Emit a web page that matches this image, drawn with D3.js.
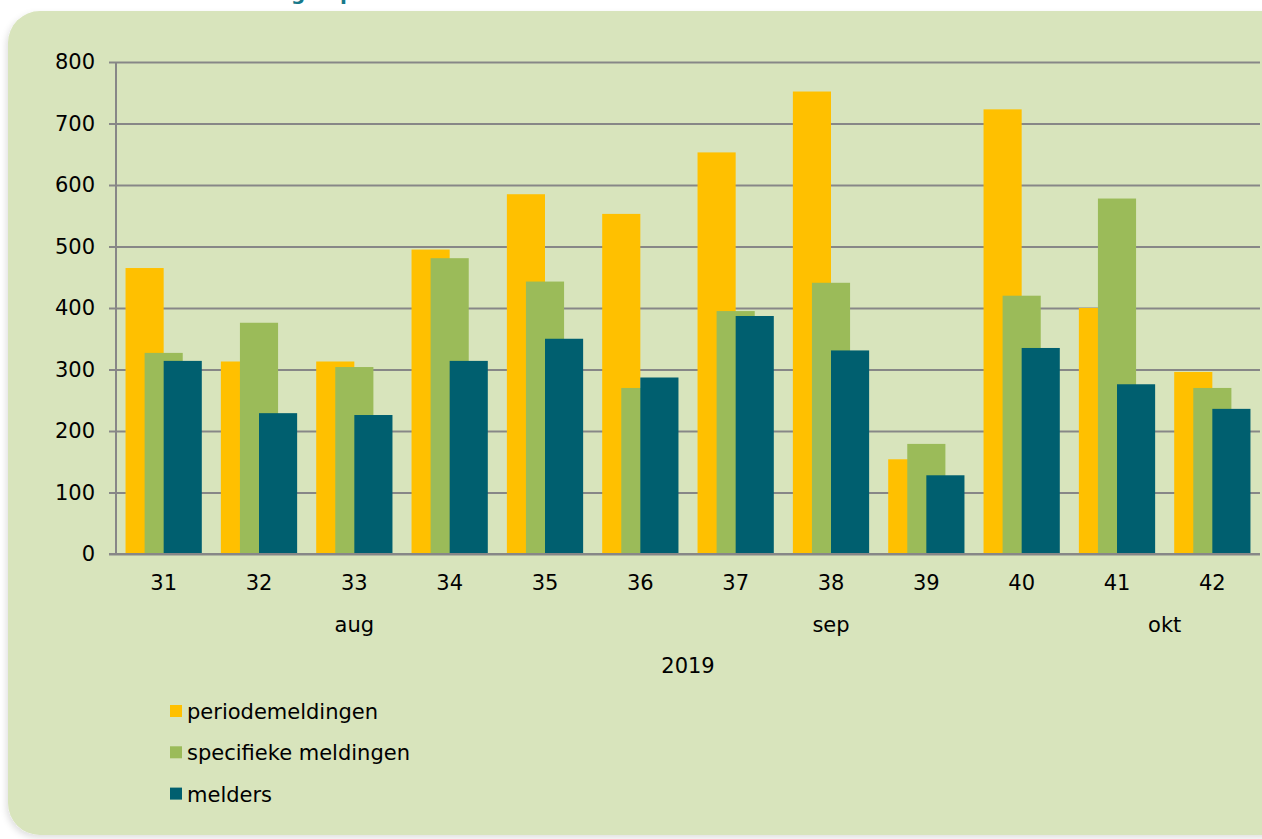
<!DOCTYPE html>
<html>
<head>
<meta charset="utf-8">
<script src="https://cdn.jsdelivr.net/npm/d3@7"></script>
<style>
  html, body { margin: 0; padding: 0; background: #fff; }
  svg { display: block; font-family: "DejaVu Sans", Verdana, sans-serif; }
</style>
</head>
<body>
<div id="chart"></div>
<script>
// week numbers and the three series
var weeks = ['31', '32', '33', '34', '35', '36', '37', '38', '39', '40', '41', '42'];
var periodemeldingen = [465, 313, 313, 495, 585, 553, 653, 752, 154, 723, 400, 296];
var specifiekeMeldingen = [327, 376, 304, 481, 443, 270, 395, 441, 179, 420, 578, 270];
var melders = [314, 229, 226, 314, 350, 287, 387, 331, 128, 335, 276, 236];
var seriesNames = ['periodemeldingen', 'specifieke meldingen', 'melders'];
var months = ['aug', 'sep', 'okt'];
var monthFirstWeek = ['31', '36', '41'];
var monthLastWeek = ['35', '40', '42'];
var yearLabel = '2019';
var yTicks = [0, 100, 200, 300, 400, 500, 600, 700, 800];

var colors = ['#ffc000', '#9bbb59', '#005f6f'];
var allSeries = [periodemeldingen, specifiekeMeldingen, melders];

var chart_width = 1262
var chart_height = 839
var font_size = 21

var svg = d3.select('#chart')
    .append('svg')
    .attr('width', chart_width)
    .attr('height', chart_height);

// soft shadow under the panel
var defs = svg.append('defs');
var f = defs.append('filter').attr('id', 'shadow')
    .attr('x', '-5%').attr('y', '-5%').attr('width', '110%').attr('height', '110%');
f.append('feDropShadow')
    .attr('dx', -2).attr('dy', 3).attr('stdDeviation', 3)
    .attr('flood-color', '#000').attr('flood-opacity', 0.12);

// title, mostly cut off at the top (as in the original page)
var title = svg.append('text')
    .attr('y', 0)
    .attr('font-weight', 'bold')
    .attr('font-size', 20)
    .attr('fill', '#17798a')
    .text('Aantal meldingen per week');
var gi = 'Aantal meldingen'.lastIndexOf('g');
var off = title.node().getSubStringLength(0, gi);
title.attr('x', 291 - off);

// panel
svg.append('rect')
    .attr('x', 8)
    .attr('y', 11)
    .attr('width', 1320)
    .attr('height', 824)
    .attr('rx', 32)
    .attr('fill', '#d8e4bc')
    .attr('filter', 'url(#shadow)');

var x = d3.scaleBand()
    .domain(weeks)
    .range([116, 1260])
    .padding(0);

var y = d3.scaleLinear()
    .domain([0, 800])
    .range([554, 62]);

// gridlines + y ticks
var yAxis = svg.append('g')
    .attr('transform', 'translate(116,0)')
    .call(d3.axisLeft(y)
        .tickValues(yTicks)
        .tickSize(-(1260 - 116))
        .tickSizeOuter(0)
        .tickPadding(21));
yAxis.select('.domain').remove();
yAxis.selectAll('.tick line')
    .attr('x1', -7)
    .attr('stroke', '#878787')
    .attr('stroke-width', 2);
yAxis.selectAll('.tick text')
    .attr('font-size', font_size)
    .attr('font-family', '"DejaVu Sans", Verdana, sans-serif')
    .attr('fill', '#000');

// vertical axis line
svg.append('line')
    .attr('x1', 116).attr('x2', 116)
    .attr('y1', y(800)).attr('y2', y(0))
    .attr('stroke', '#878787')
    .attr('stroke-width', 2);

// bars
var bw = x.bandwidth();
var offsets = [0.1, 0.3, 0.5];
allSeries.forEach(function(values, s) {
    svg.append('g')
        .selectAll('rect')
        .data(values)
        .enter()
        .append('rect')
        .attr('x', function(d, i) { return x(weeks[i]) + offsets[s] * bw; })
        .attr('y', function(d) { return y(d); })
        .attr('width', 0.4 * bw)
        .attr('height', function(d) { return y(0) - y(d); })
        .attr('fill', colors[s]);
});

// x axis line on top of bar bottoms
svg.append('line')
    .attr('x1', 109).attr('x2', 1260)
    .attr('y1', y(0)).attr('y2', y(0))
    .attr('stroke', '#878787')
    .attr('stroke-width', 2);

// week labels
svg.append('g')
    .selectAll('text')
    .data(weeks)
    .enter()
    .append('text')
    .attr('x', function(d) { return x(d) + bw / 2; })
    .attr('y', 590)
    .attr('text-anchor', 'middle')
    .attr('font-size', font_size)
    .text(function(d) { return d; });

// month labels
svg.append('g')
    .selectAll('text')
    .data(months)
    .enter()
    .append('text')
    .attr('x', function(d, i) {
        return (x(monthFirstWeek[i]) + x(monthLastWeek[i]) + bw) / 2;
    })
    .attr('y', 632)
    .attr('text-anchor', 'middle')
    .attr('font-size', font_size)
    .text(function(d) { return d; });

svg.append('text')
    .attr('x', (116 + 1260) / 2)
    .attr('y', 673)
    .attr('text-anchor', 'middle')
    .attr('font-size', font_size)
    .text(yearLabel);

// legend
var legend = svg.append('g')
    .selectAll('g')
    .data(seriesNames)
    .enter()
    .append('g')
    .attr('transform', function(d, i) { return 'translate(170,' + (719 + i * 41.3) + ')'; });
legend.append('rect')
    .attr('x', 0)
    .attr('y', -14)
    .attr('width', 12)
    .attr('height', 12)
    .attr('fill', function(d, i) { return colors[i]; });
legend.append('text')
    .attr('x', 17)
    .attr('y', 0)
    .attr('font-size', font_size)
    .text(function(d) { return d; });
</script>
</body>
</html>
